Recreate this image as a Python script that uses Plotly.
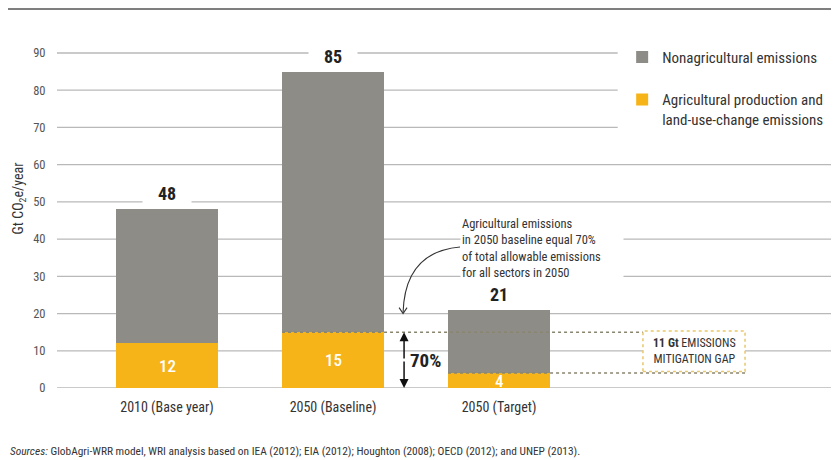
import plotly.graph_objects as go

# ---- data ----
categories = ["2010 (Base year)", "2050 (Baseline)", "2050 (Target)"]
agricultural = [12, 15, 4]
nonagricultural = [36, 70, 17]
y_ticks = [0, 10, 20, 30, 40, 50, 60, 70, 80, 90]
gap_value = 11
share_pct = 70
annotation_text = ("Agricultural emissions<br>in 2050 baseline equal 70%<br>"
                   "of total allowable emissions<br>for all sectors in 2050")
source_text = ("<i>Sources:</i> GlobAgri-WRR model, WRI analysis based on IEA (2012); EIA (2012); "
               "Houghton (2008); OECD (2012); and UNEP (2013).")

totals = [a + n for a, n in zip(agricultural, nonagricultural)]
xpos = list(range(len(categories)))

FONT = "Liberation Sans Narrow, Roboto Condensed, DejaVu Sans Condensed, Roboto, sans-serif"
GREY = "#8d8c86"
GOLD = "#f7b418"
GRID = "#b9b9b9"
BW = 0.614

fig = go.Figure()
fig.add_trace(go.Bar(x=xpos, y=agricultural, width=BW, marker_color=GOLD, marker_line_width=0,
                     name="Agricultural production and<br>land-use-change emissions",
                     legendgroup="ag", legendrank=2))
fig.add_trace(go.Bar(x=xpos, y=nonagricultural, width=BW, marker_color=GREY, marker_line_width=0,
                     name="Nonagricultural emissions", legendgroup="non", legendrank=1))

shapes = []
# grid lines
for t in y_ticks:
    x1 = 0.717 if t >= 70 else 0.997
    shapes.append(dict(type="line", xref="paper", yref="y", x0=0, x1=x1, y0=t, y1=t,
                       line=dict(color=GRID, width=1.3), layer="below"))
# top rule
shapes.append(dict(type="line", xref="paper", yref="paper", x0=-0.0627, x1=1, y0=1, y1=1,
                   line=dict(color="#555555", width=1.6)))
# dotted reference lines
shapes.append(dict(type="line", xref="x", yref="y", x0=1 - BW / 2, x1=3.482,
                   y0=agricultural[1], y1=agricultural[1],
                   line=dict(color="#8a8570", width=1.5, dash="dot")))
shapes.append(dict(type="line", xref="x", yref="y", x0=2 - BW / 2, x1=3.482,
                   y0=agricultural[2], y1=agricultural[2],
                   line=dict(color="#8a8570", width=1.5, dash="dot")))
# gap box
shapes.append(dict(type="rect", xref="x", yref="y", x0=2.867, x1=3.482, y0=4.4, y1=15.3,
                   fillcolor="white", line=dict(color="#e8c86a", width=1.5, dash="dot")))
# curved pointer arrow
shapes.append(dict(type="path", xref="x", yref="y",
                   path="M 1.765,37.9 Q 1.434,36.6 1.422,20.3",
                   line=dict(color="#333333", width=1.1)))
shapes.append(dict(type="path", xref="x", yref="y",
                   path="M 1.398,21.6 L 1.422,20.0 L 1.446,21.6",
                   line=dict(color="#333333", width=1.1)))

annotations = []
# totals above bars
for x, t in zip(xpos, totals):
    annotations.append(dict(x=x, y=t, xref="x", yref="y", text=f"<b>{t}</b>", showarrow=False,
                            yanchor="bottom", yshift=3, bgcolor="white", width=46,
                            font=dict(family=FONT, size=18, color="#222222")))
# agricultural values inside bars
for x, a in zip(xpos, agricultural):
    annotations.append(dict(x=x, y=a / 2, xref="x", yref="y", text=f"{a}", showarrow=False,
                            font=dict(family=FONT, size=17, color="white", weight=500)))
# double arrow
for yend in (agricultural[1], 0):
    annotations.append(dict(x=1.428, y=yend, ax=1.428, ay=agricultural[1] / 2, xref="x", yref="y",
                            axref="x", ayref="y", text="", showarrow=True, arrowhead=2,
                            arrowsize=1.2, arrowwidth=1.5, arrowcolor="#111111"))
annotations.append(dict(x=1.428, y=agricultural[1] / 2, xref="x", yref="y", text=f"<b>{share_pct}%</b>",
                        showarrow=False, xanchor="left", xshift=4,
                        font=dict(family=FONT, size=19, color="#222222")))
# gap box text
annotations.append(dict(x=3.175, y=9.85, xref="x", yref="y",
                        text=f"<b>{gap_value} Gt</b> EMISSIONS<br>MITIGATION GAP", showarrow=False,
                        align="center", font=dict(family=FONT, size=12, color="#333333")))
# explanatory note
annotations.append(dict(x=1.765, y=37.6, xref="x", yref="y", text=annotation_text, showarrow=False,
                        xanchor="left", align="left", bgcolor="white", width=160, borderpad=1,
                        font=dict(family=FONT, size=12.5, color="#333333")))
# sources
annotations.append(dict(x=-0.0627, y=-0.166, xref="paper", yref="paper", text=source_text,
                        showarrow=False, xanchor="left", yanchor="middle",
                        font=dict(family=FONT, size=11.4, color="#333333")))

# page body adds an 8px offset: figure is 831x452 so it fills the 839x460 window
fig.update_layout(
    width=831, height=452,
    margin=dict(l=49, r=0, t=1, b=72, autoexpand=False),
    barmode="stack",
    plot_bgcolor="white", paper_bgcolor="white",
    font=dict(family=FONT, color="#444444"),
    showlegend=True,
    legend=dict(x=0.7227, y=0.916, xanchor="left", yanchor="top", traceorder="grouped",
                tracegroupgap=20, valign="top", bgcolor="white",
                font=dict(family=FONT, size=15, color="#333333")),
    xaxis=dict(range=[-0.6627, 4.048], tickvals=xpos, ticktext=categories, showgrid=False,
               zeroline=False, showline=False, ticks="outside", ticklen=6,
               tickcolor="rgba(0,0,0,0)", tickfont=dict(family=FONT, size=14, color="#333333")),
    yaxis=dict(range=[0, 101.82], tickvals=y_ticks, showgrid=False, zeroline=False,
               showline=False, ticks="outside", ticklen=8, tickcolor="rgba(0,0,0,0)",
               tickfont=dict(family=FONT, size=12.5, color="#555555"),
               title=dict(text="Gt CO<sub>2</sub>e/year", standoff=6,
                          font=dict(family=FONT, size=14, color="#333333"))),
    shapes=shapes,
    annotations=annotations,
)

fig.write_html("out.html")
